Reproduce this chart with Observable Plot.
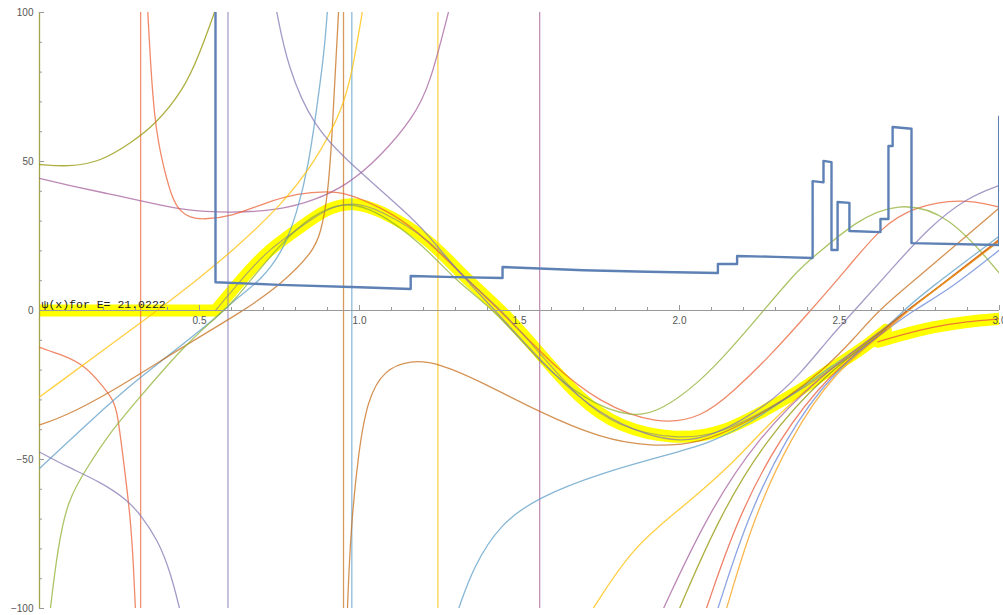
<!DOCTYPE html>
<html><head><meta charset="utf-8">
<script src="https://cdn.jsdelivr.net/npm/d3@7"></script>
<script src="https://cdn.jsdelivr.net/npm/@observablehq/plot@0.6"></script>
<style>body{margin:0;background:#fff;overflow:hidden}</style>
</head><body><div id="chart"></div>
<script>
// ---- data ----
const psiFlat = [[0,0],[0.55,0]];
const psiMain = [[0.55,0],[0.62,9],[0.71,20],[0.81,27.5],[0.9,34.5],[0.98,36.4],[1.06,34],[1.22,24],[1.325,11.2],[1.447,0],[1.56,-14],[1.69,-30],[1.806,-39],[1.99,-43.5],[2.14,-41],[2.275,-33],[2.38,-26.7],[2.48,-19],[2.57,-13],[2.645,-6.5]];
const psiTail = [[2.62,-10.5],[2.69,-8.3],[2.79,-5.5],[2.9,-3.7],[3.0,-2.8]];

const potential = [[0.55,101],[0.55,9.5],[0.75,8.6],[1.0,7.8],[1.16,7.2],[1.16,11.6],[1.3,11.2],[1.447,10.9],[1.447,14.6],[1.7,13.5],[1.9,13],[2.12,12.6],[2.12,15.6],[2.18,15.6],[2.18,18.3],[2.3,18],[2.416,17.6],[2.416,43.4],[2.45,43],[2.45,50.2],[2.475,49.8],[2.475,20.3],[2.494,20.3],[2.494,36.4],[2.531,36.1],[2.531,26.7],[2.628,26.3],[2.628,30.7],[2.653,30.7],[2.653,55.2],[2.666,55.2],[2.666,61.6],[2.725,61],[2.725,22.6],[2.999,22],[2.999,65]];

const oliveL = [[0,49],[0.09,48.2],[0.19,49.8],[0.29,56.6],[0.36,62.2],[0.45,74],[0.5,86],[0.55,101]];
const magentaL = [[0,44.3],[0.1,41.8],[0.2,39.5],[0.3,37.3],[0.44,33.7],[0.6,32.7],[0.75,33.7],[0.86,37],[0.96,42],[1.065,51.5],[1.17,65],[1.22,75.7],[1.28,101]];
const redL = [[0,-12.4],[0.075,-15],[0.14,-18.3],[0.2,-25.6],[0.23,-30],[0.244,-34.4],[0.262,-50],[0.284,-69],[0.294,-86],[0.3,-101]];
const redR = [[0.338,101],[0.357,62.8],[0.39,47],[0.415,37.5],[0.44,33.2],[0.47,31.2],[0.51,30.5],[0.6,31.5],[0.7,36],[0.81,39.4],[0.9,40],[0.96,39.4],[1.065,34.7],[1.17,28],[1.3,14],[1.45,-1],[1.6,-18],[1.75,-31],[1.93,-38.4],[2.07,-36],[2.17,-27],[2.28,-15.6],[2.41,0],[2.52,13.6],[2.63,28],[2.73,34.7],[2.88,37.7],[3.0,34.7]];
const blueL = [[0,-53],[0.23,-30],[0.316,-22.3],[0.44,-12],[0.556,-2],[0.62,4.5],[0.69,10],[0.762,20],[0.805,33],[0.84,48],[0.87,70.6],[0.89,87],[0.9,101]];
const blueR = [[1.31,-100],[1.356,-86],[1.44,-71.5],[1.56,-62.6],[1.75,-54.7],[1.96,-48.5],[2.09,-44.6],[2.2,-39],[2.35,-28.5],[2.47,-19],[2.63,-7.5],[2.70,0],[2.775,6.9],[3.0,25]];
const brownL = [[0,-38.4],[0.075,-35.7],[0.22,-27.7],[0.45,-12],[0.64,0],[0.76,9.2],[0.857,20],[0.878,26],[0.9,37],[0.915,59.5],[0.925,81.7],[0.935,101]];
const brownR = [[0.962,-101],[0.972,-74],[0.997,-47],[1.025,-30],[1.075,-20],[1.16,-16.6],[1.247,-17.6],[1.39,-24.4],[1.56,-34],[1.75,-42.8],[1.91,-45.8],[2.07,-44.5],[2.2,-38],[2.33,-30],[2.45,-20],[2.55,-9],[2.62,0],[2.76,12.5],[2.88,23.5],[3.0,34.5]];
const yellowL = [[0,-29],[0.316,-4.2],[0.49,10],[0.606,20.3],[0.75,34.7],[0.86,49.5],[0.95,68],[0.98,81.7],[1.01,101]];
const yellowR = [[1.73,-100],[1.856,-79],[2.01,-66],[2.17,-51],[2.26,-40],[2.45,-21],[2.63,-7],[2.71,0],[2.8,7],[3.0,24]];
const greenC = [[0.034,-100],[0.056,-80.5],[0.087,-63.6],[0.15,-52.5],[0.22,-41],[0.306,-30],[0.45,-12],[0.556,-2],[0.6,2.5],[0.64,7.5],[0.75,22],[0.85,32],[0.95,36.5],[1.05,34],[1.2,22],[1.3,10],[1.425,0],[1.56,-17],[1.7,-30],[1.856,-36.4],[1.95,-33],[2.06,-24.3],[2.16,-13],[2.263,0],[2.37,13.6],[2.42,18],[2.55,30],[2.68,36.4],[2.84,32.7],[3.0,12.5]];
const purpleL = [[0,-47.5],[0.087,-52.5],[0.19,-57.5],[0.275,-63.6],[0.316,-68.6],[0.37,-77],[0.41,-88],[0.44,-101]];
const purpleR = [[0.74,101],[0.775,81.7],[0.857,61.6],[0.96,50.5],[1.066,40.4],[1.17,30.4],[1.22,24.7],[1.3,14],[1.45,-3],[1.6,-21],[1.75,-35],[1.9,-42],[2.0,-44],[2.1,-42.5],[2.275,-32],[2.38,-21],[2.47,-9],[2.547,0],[2.66,13.6],[2.78,28],[2.9,38],[3.0,42]];
const mauveR = [[1.95,-100],[2.08,-70],[2.24,-43],[2.45,-21],[2.63,-7],[2.71,0],[2.8,7],[3.0,23.5]];
const oliveR = [[2.0,-100],[2.12,-70],[2.27,-43],[2.46,-21],[2.635,-7],[2.71,0],[2.8,7],[3.0,23.7]];
const red2R = [[2.084,-100],[2.18,-70],[2.31,-43],[2.47,-21],[2.64,-7],[2.71,0],[2.8,7],[3.0,23.9]];
const blue2R = [[2.12,-100],[2.21,-70],[2.33,-43],[2.475,-21],[2.64,-7],[2.73,0],[2.85,7.5],[3.0,20.3]];
const orange2R = [[2.147,-100],[2.23,-70],[2.345,-43],[2.48,-21],[2.645,-7],[2.715,0],[2.8,7],[3.0,23.3]];

const asymptotes = [0.316, 0.589, 0.95, 0.976, 1.245, 1.563];
const asymptoteColors = ["#EB6235", "#8778B3", "#C56E1A", "#5D9EC7", "#FFBF00", "#A5609D"];

const curveSets = [
  [oliveL, "#929600"], [magentaL, "#A5609D"], [redL, "#EB6235"], [redR, "#EB6235"],
  [blueL, "#5D9EC7"], [blueR, "#5D9EC7"], [brownL, "#C56E1A"], [brownR, "#C56E1A"],
  [yellowL, "#FFBF00"], [yellowR, "#FFBF00"], [greenC, "#8FB032"], [purpleL, "#8778B3"],
  [purpleR, "#8778B3"], [mauveR, "#A5609D"], [oliveR, "#929600"], [red2R, "#E95536"],
  [blue2R, "#6685D9"], [orange2R, "#F89F13"]
];

const xMinor = [0.1,0.2,0.3,0.4,0.6,0.7,0.8,0.9,1.1,1.2,1.3,1.4,1.6,1.7,1.8,1.9,2.1,2.2,2.3,2.4,2.6,2.7,2.8,2.9];
const xMajor = [0.5,1.0,1.5,2.0,2.5,3.0];
const xLabels = ["0.5","1.0","1.5","2.0","2.5","3.0"];
const yMinor = [-90,-80,-70,-60,-40,-30,-20,-10,10,20,30,40,60,70,80,90];
const yMajor = [-100,-50,50,100];
const yLabelVals = [-100,-50,0,50,100];
const yLabels = ["\u2212100","\u221250","0","50","100"];
const title = "\u03c8(x)for E= 21.0222";

// ---- chart ----
const X = d => d[0], Y = d => d[1];
const CURVE = "basis";
const thin = {x: X, y: Y, curve: CURVE, strokeWidth: 1.3, strokeOpacity: 0.75, clip: true};

const marks = [
  Plot.line(psiFlat, {x: X, y: Y, stroke: "#FFFF00", strokeWidth: 12, clip: true}),
  Plot.line(psiMain, {x: X, y: Y, curve: CURVE, stroke: "#FFFF00", strokeWidth: 12, clip: true}),
  Plot.line(psiTail, {x: X, y: Y, curve: CURVE, stroke: "#FFFF00", strokeWidth: 12, clip: true}),
  Plot.ruleX([0], {x: d => d, stroke: "#A4A448", strokeWidth: 1.3}),
  Plot.ruleX(asymptotes, {x: d => d, stroke: (d, i) => asymptoteColors[i], strokeWidth: 1.3, strokeOpacity: 0.7}),
  ...curveSets.map(([pts, c]) => Plot.line(pts, {...thin, stroke: c})),
  Plot.line(psiMain, {x: X, y: Y, curve: CURVE, stroke: "#7d7896", strokeWidth: 1.2, strokeOpacity: 0.6, clip: true}),
  Plot.line(psiTail, {x: X, y: Y, curve: CURVE, stroke: "#E8653A", strokeWidth: 1.3, strokeOpacity: 0.85, clip: true}),
  Plot.line(potential, {x: X, y: Y, stroke: "#5E81B5", strokeWidth: 2.4, clip: true}),
  // axes
  Plot.ruleY([0], {y: d => d, stroke: "#999", strokeWidth: 1.1}),
  Plot.ruleX(xMinor, {x: d => d, y1: 0, y2: 0, insetTop: -3, stroke: "#999"}),
  Plot.ruleX(xMajor, {x: d => d, y1: 0, y2: 0, insetTop: -5, stroke: "#999"}),
  Plot.ruleY(yMinor, {y: d => d, x1: 0, x2: 0, insetRight: -3, stroke: "#999"}),
  Plot.ruleY(yMajor, {y: d => d, x1: 0, x2: 0, insetRight: -5, stroke: "#999"}),
  Plot.text(xMajor, {x: d => d, y: 0, text: (d, i) => xLabels[i], dy: 10, fill: "#555", fontSize: 10, fontFamily: "Liberation Sans, Arial, sans-serif"}),
  Plot.text(yLabelVals, {x: 0, y: d => d, text: (d, i) => yLabels[i], dx: -6, textAnchor: "end", fill: "#555", fontSize: 10, fontFamily: "Liberation Sans, Arial, sans-serif"}),
  Plot.text([title], {x: 0, y: 0, text: d => d, textAnchor: "start", lineAnchor: "bottom", dx: 2, dy: -3, fill: "#222", fontSize: 11.5, fontFamily: "Liberation Mono, DejaVu Sans Mono, monospace"})
];

const chart = Plot.plot({
  width: 1003, height: 615,
  marginLeft: 39, marginRight: 4, marginTop: 12, marginBottom: 7,
  x: {domain: [0, 3], axis: null},
  y: {domain: [-100, 100], axis: null},
  style: {background: "white"},
  marks
});
document.getElementById("chart").appendChild(chart);
</script>
</body></html>
